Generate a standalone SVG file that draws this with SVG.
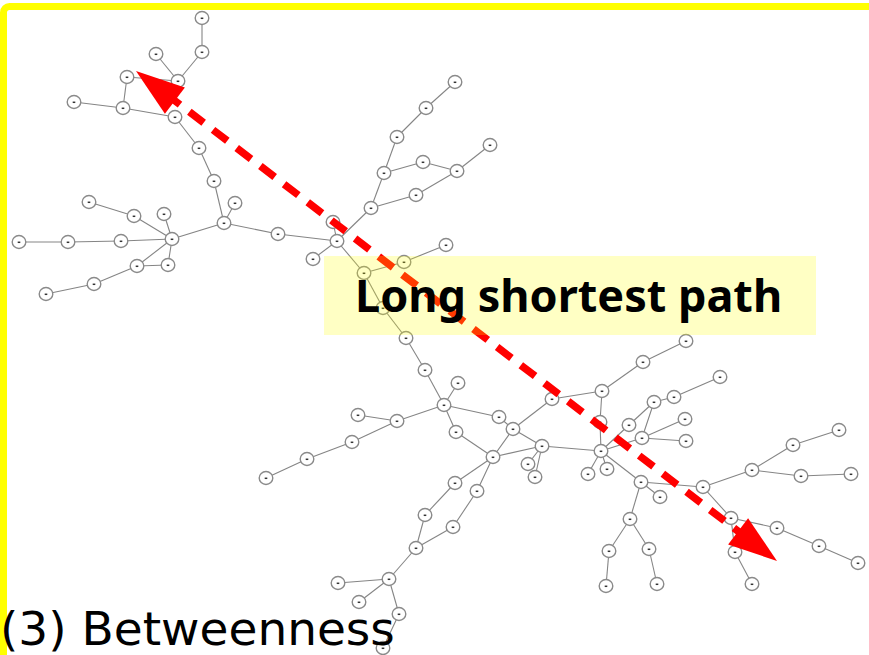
<svg xmlns="http://www.w3.org/2000/svg" xmlns:xlink="http://www.w3.org/1999/xlink" width="869" height="655" viewBox="0 0 869 655">
  <style>
    .edge { stroke: #858585; stroke-width: 1.1; fill: none; }
    .nd ellipse { fill: #ffffff; stroke: #8a8a8a; stroke-width: 1.4; }
    .nd path { stroke: #333; stroke-width: 1.5; }
    .path-line { stroke: #ff0000; stroke-width: 7.5; fill: none; stroke-dasharray: 18 11.8; }
    .head { fill: #ff0000; }
    .title { font-family: "Noto Sans", "Open Sans", sans-serif; font-weight: bold; font-size: 45px; fill: #000; }
    .caption { font-family: "DejaVu Sans", Verdana, sans-serif; font-size: 47px; fill: #000; }
  </style>
  <defs>
    <g id="node" class="nd">
      <ellipse cx="0" cy="0" rx="6.8" ry="6.5"/>
      <path d="M-1.3 0.3h2.6"/>
    </g>
  </defs>

  <rect width="869" height="655" fill="#ffffff"/>
  <!-- frame -->
  <rect x="3.5" y="6.5" width="920" height="720" rx="6" fill="none" stroke="#ffff00" stroke-width="7"/>

  <!-- connectors -->
  <g id="edges" class="edge">
    <line x1="202" y1="18" x2="202" y2="52"/>
    <line x1="202" y1="52" x2="178" y2="81"/>
    <line x1="156" y1="54" x2="178" y2="81"/>
    <line x1="178" y1="81" x2="127" y2="77"/>
    <line x1="127" y1="77" x2="123" y2="108"/>
    <line x1="123" y1="108" x2="74" y2="102"/>
    <line x1="123" y1="108" x2="175" y2="117"/>
    <line x1="175" y1="117" x2="199" y2="148"/>
    <line x1="199" y1="148" x2="214" y2="181"/>
    <line x1="214" y1="181" x2="224" y2="223"/>
    <line x1="235" y1="203" x2="224" y2="223"/>
    <line x1="89" y1="202" x2="134" y2="216"/>
    <line x1="134" y1="216" x2="172" y2="239"/>
    <line x1="164" y1="214" x2="172" y2="239"/>
    <line x1="19" y1="242" x2="68" y2="242"/>
    <line x1="68" y1="242" x2="121" y2="241"/>
    <line x1="121" y1="241" x2="172" y2="239"/>
    <line x1="172" y1="239" x2="137" y2="266"/>
    <line x1="172" y1="239" x2="168" y2="265"/>
    <line x1="137" y1="266" x2="168" y2="265"/>
    <line x1="137" y1="266" x2="94" y2="284"/>
    <line x1="94" y1="284" x2="46" y2="294"/>
    <line x1="172" y1="239" x2="224" y2="223"/>
    <line x1="224" y1="223" x2="278" y2="234"/>
    <line x1="278" y1="234" x2="337" y2="241"/>
    <line x1="337" y1="241" x2="313" y2="259"/>
    <line x1="337" y1="241" x2="333" y2="222"/>
    <line x1="455" y1="82" x2="426" y2="108"/>
    <line x1="426" y1="108" x2="397" y2="137"/>
    <line x1="397" y1="137" x2="384" y2="173"/>
    <line x1="384" y1="173" x2="371" y2="208"/>
    <line x1="384" y1="173" x2="423" y2="162"/>
    <line x1="423" y1="162" x2="457" y2="171"/>
    <line x1="457" y1="171" x2="490" y2="145"/>
    <line x1="457" y1="171" x2="416" y2="195"/>
    <line x1="416" y1="195" x2="371" y2="208"/>
    <line x1="371" y1="208" x2="337" y2="241"/>
    <line x1="337" y1="241" x2="364" y2="273"/>
    <line x1="364" y1="273" x2="404" y2="262"/>
    <line x1="404" y1="262" x2="446" y2="245"/>
    <line x1="364" y1="273" x2="383" y2="308"/>
    <line x1="383" y1="308" x2="406" y2="338"/>
    <line x1="406" y1="338" x2="425" y2="370"/>
    <line x1="425" y1="370" x2="444" y2="405"/>
    <line x1="444" y1="405" x2="458" y2="383"/>
    <line x1="444" y1="405" x2="397" y2="421"/>
    <line x1="397" y1="421" x2="358" y2="415"/>
    <line x1="397" y1="421" x2="352" y2="442"/>
    <line x1="352" y1="442" x2="307" y2="459"/>
    <line x1="307" y1="459" x2="266" y2="478"/>
    <line x1="444" y1="405" x2="499" y2="417"/>
    <line x1="499" y1="417" x2="513" y2="429"/>
    <line x1="513" y1="429" x2="542" y2="446"/>
    <line x1="513" y1="429" x2="552" y2="399"/>
    <line x1="513" y1="429" x2="493" y2="457"/>
    <line x1="444" y1="405" x2="456" y2="432"/>
    <line x1="456" y1="432" x2="493" y2="457"/>
    <line x1="493" y1="457" x2="542" y2="446"/>
    <line x1="542" y1="446" x2="528" y2="464"/>
    <line x1="542" y1="446" x2="535" y2="477"/>
    <line x1="493" y1="457" x2="455" y2="483"/>
    <line x1="455" y1="483" x2="425" y2="515"/>
    <line x1="425" y1="515" x2="416" y2="548"/>
    <line x1="493" y1="457" x2="477" y2="491"/>
    <line x1="477" y1="491" x2="453" y2="527"/>
    <line x1="453" y1="527" x2="416" y2="548"/>
    <line x1="416" y1="548" x2="389" y2="579"/>
    <line x1="389" y1="579" x2="338" y2="583"/>
    <line x1="389" y1="579" x2="359" y2="602"/>
    <line x1="389" y1="579" x2="399" y2="614"/>
    <line x1="399" y1="614" x2="383" y2="648"/>
    <line x1="552" y1="399" x2="602" y2="391"/>
    <line x1="602" y1="391" x2="643" y2="362"/>
    <line x1="643" y1="362" x2="686" y2="341"/>
    <line x1="602" y1="391" x2="600" y2="422"/>
    <line x1="600" y1="422" x2="601" y2="451"/>
    <line x1="542" y1="446" x2="601" y2="451"/>
    <line x1="601" y1="451" x2="629" y2="425"/>
    <line x1="629" y1="425" x2="654" y2="402"/>
    <line x1="654" y1="402" x2="674" y2="397"/>
    <line x1="674" y1="397" x2="720" y2="377"/>
    <line x1="654" y1="402" x2="642" y2="438"/>
    <line x1="601" y1="451" x2="642" y2="438"/>
    <line x1="642" y1="438" x2="685" y2="419"/>
    <line x1="642" y1="438" x2="686" y2="441"/>
    <line x1="601" y1="451" x2="588" y2="474"/>
    <line x1="601" y1="451" x2="607" y2="469"/>
    <line x1="601" y1="451" x2="641" y2="482"/>
    <line x1="641" y1="482" x2="660" y2="497"/>
    <line x1="641" y1="482" x2="703" y2="487"/>
    <line x1="703" y1="487" x2="752" y2="470"/>
    <line x1="752" y1="470" x2="793" y2="445"/>
    <line x1="793" y1="445" x2="839" y2="430"/>
    <line x1="752" y1="470" x2="801" y2="476"/>
    <line x1="801" y1="476" x2="851" y2="474"/>
    <line x1="703" y1="487" x2="731" y2="518"/>
    <line x1="731" y1="518" x2="777" y2="528"/>
    <line x1="777" y1="528" x2="819" y2="546"/>
    <line x1="819" y1="546" x2="858" y2="563"/>
    <line x1="731" y1="518" x2="735" y2="552"/>
    <line x1="735" y1="552" x2="752" y2="584"/>
    <line x1="641" y1="482" x2="630" y2="519"/>
    <line x1="630" y1="519" x2="609" y2="551"/>
    <line x1="609" y1="551" x2="606" y2="586"/>
    <line x1="630" y1="519" x2="649" y2="549"/>
    <line x1="649" y1="549" x2="657" y2="584"/>
  </g>

  <!-- nodes -->
  <g id="nodes">
    <g id="n1"><use xlink:href="#node" x="202" y="18"/></g>
    <g id="n2"><use xlink:href="#node" x="202" y="52"/></g>
    <g id="n3"><use xlink:href="#node" x="156" y="54"/></g>
    <g id="n4"><use xlink:href="#node" x="178" y="81"/></g>
    <g id="n5"><use xlink:href="#node" x="127" y="77"/></g>
    <g id="n6"><use xlink:href="#node" x="123" y="108"/></g>
    <g id="n7"><use xlink:href="#node" x="74" y="102"/></g>
    <g id="n8"><use xlink:href="#node" x="175" y="117"/></g>
    <g id="n9"><use xlink:href="#node" x="199" y="148"/></g>
    <g id="n10"><use xlink:href="#node" x="214" y="181"/></g>
    <g id="n11"><use xlink:href="#node" x="235" y="203"/></g>
    <g id="n12"><use xlink:href="#node" x="224" y="223"/></g>
    <g id="n13"><use xlink:href="#node" x="89" y="202"/></g>
    <g id="n14"><use xlink:href="#node" x="134" y="216"/></g>
    <g id="n15"><use xlink:href="#node" x="164" y="214"/></g>
    <g id="n16"><use xlink:href="#node" x="172" y="239"/></g>
    <g id="n17"><use xlink:href="#node" x="19" y="242"/></g>
    <g id="n18"><use xlink:href="#node" x="68" y="242"/></g>
    <g id="n19"><use xlink:href="#node" x="121" y="241"/></g>
    <g id="n20"><use xlink:href="#node" x="137" y="266"/></g>
    <g id="n21"><use xlink:href="#node" x="168" y="265"/></g>
    <g id="n22"><use xlink:href="#node" x="94" y="284"/></g>
    <g id="n23"><use xlink:href="#node" x="46" y="294"/></g>
    <g id="n24"><use xlink:href="#node" x="278" y="234"/></g>
    <g id="n25"><use xlink:href="#node" x="337" y="241"/></g>
    <g id="n26"><use xlink:href="#node" x="313" y="259"/></g>
    <g id="n27"><use xlink:href="#node" x="333" y="222"/></g>
    <g id="n28"><use xlink:href="#node" x="455" y="82"/></g>
    <g id="n29"><use xlink:href="#node" x="426" y="108"/></g>
    <g id="n30"><use xlink:href="#node" x="397" y="137"/></g>
    <g id="n31"><use xlink:href="#node" x="384" y="173"/></g>
    <g id="n32"><use xlink:href="#node" x="423" y="162"/></g>
    <g id="n33"><use xlink:href="#node" x="457" y="171"/></g>
    <g id="n34"><use xlink:href="#node" x="490" y="145"/></g>
    <g id="n35"><use xlink:href="#node" x="416" y="195"/></g>
    <g id="n36"><use xlink:href="#node" x="371" y="208"/></g>
    <g id="n37"><use xlink:href="#node" x="364" y="273"/></g>
    <g id="n38"><use xlink:href="#node" x="404" y="262"/></g>
    <g id="n39"><use xlink:href="#node" x="446" y="245"/></g>
    <g id="n40"><use xlink:href="#node" x="383" y="308"/></g>
    <g id="n41"><use xlink:href="#node" x="406" y="338"/></g>
    <g id="n42"><use xlink:href="#node" x="425" y="370"/></g>
    <g id="n43"><use xlink:href="#node" x="444" y="405"/></g>
    <g id="n44"><use xlink:href="#node" x="458" y="383"/></g>
    <g id="n45"><use xlink:href="#node" x="397" y="421"/></g>
    <g id="n46"><use xlink:href="#node" x="358" y="415"/></g>
    <g id="n47"><use xlink:href="#node" x="352" y="442"/></g>
    <g id="n48"><use xlink:href="#node" x="307" y="459"/></g>
    <g id="n49"><use xlink:href="#node" x="266" y="478"/></g>
    <g id="n50"><use xlink:href="#node" x="499" y="417"/></g>
    <g id="n51"><use xlink:href="#node" x="456" y="432"/></g>
    <g id="n52"><use xlink:href="#node" x="513" y="429"/></g>
    <g id="n53"><use xlink:href="#node" x="552" y="399"/></g>
    <g id="n54"><use xlink:href="#node" x="542" y="446"/></g>
    <g id="n55"><use xlink:href="#node" x="493" y="457"/></g>
    <g id="n56"><use xlink:href="#node" x="528" y="464"/></g>
    <g id="n57"><use xlink:href="#node" x="535" y="477"/></g>
    <g id="n58"><use xlink:href="#node" x="455" y="483"/></g>
    <g id="n59"><use xlink:href="#node" x="477" y="491"/></g>
    <g id="n60"><use xlink:href="#node" x="425" y="515"/></g>
    <g id="n61"><use xlink:href="#node" x="453" y="527"/></g>
    <g id="n62"><use xlink:href="#node" x="416" y="548"/></g>
    <g id="n63"><use xlink:href="#node" x="389" y="579"/></g>
    <g id="n64"><use xlink:href="#node" x="338" y="583"/></g>
    <g id="n65"><use xlink:href="#node" x="359" y="602"/></g>
    <g id="n66"><use xlink:href="#node" x="399" y="614"/></g>
    <g id="n67"><use xlink:href="#node" x="383" y="648"/></g>
    <g id="n68"><use xlink:href="#node" x="602" y="391"/></g>
    <g id="n69"><use xlink:href="#node" x="643" y="362"/></g>
    <g id="n70"><use xlink:href="#node" x="686" y="341"/></g>
    <g id="n71"><use xlink:href="#node" x="600" y="422"/></g>
    <g id="n72"><use xlink:href="#node" x="601" y="451"/></g>
    <g id="n73"><use xlink:href="#node" x="629" y="425"/></g>
    <g id="n74"><use xlink:href="#node" x="654" y="402"/></g>
    <g id="n75"><use xlink:href="#node" x="674" y="397"/></g>
    <g id="n76"><use xlink:href="#node" x="720" y="377"/></g>
    <g id="n77"><use xlink:href="#node" x="642" y="438"/></g>
    <g id="n78"><use xlink:href="#node" x="685" y="419"/></g>
    <g id="n79"><use xlink:href="#node" x="686" y="441"/></g>
    <g id="n80"><use xlink:href="#node" x="588" y="474"/></g>
    <g id="n81"><use xlink:href="#node" x="607" y="469"/></g>
    <g id="n82"><use xlink:href="#node" x="641" y="482"/></g>
    <g id="n83"><use xlink:href="#node" x="660" y="497"/></g>
    <g id="n84"><use xlink:href="#node" x="703" y="487"/></g>
    <g id="n85"><use xlink:href="#node" x="752" y="470"/></g>
    <g id="n86"><use xlink:href="#node" x="793" y="445"/></g>
    <g id="n87"><use xlink:href="#node" x="839" y="430"/></g>
    <g id="n88"><use xlink:href="#node" x="801" y="476"/></g>
    <g id="n89"><use xlink:href="#node" x="851" y="474"/></g>
    <g id="n90"><use xlink:href="#node" x="731" y="518"/></g>
    <g id="n91"><use xlink:href="#node" x="777" y="528"/></g>
    <g id="n92"><use xlink:href="#node" x="819" y="546"/></g>
    <g id="n93"><use xlink:href="#node" x="858" y="563"/></g>
    <g id="n94"><use xlink:href="#node" x="735" y="552"/></g>
    <g id="n95"><use xlink:href="#node" x="752" y="584"/></g>
    <g id="n96"><use xlink:href="#node" x="630" y="519"/></g>
    <g id="n97"><use xlink:href="#node" x="609" y="551"/></g>
    <g id="n98"><use xlink:href="#node" x="606" y="586"/></g>
    <g id="n99"><use xlink:href="#node" x="649" y="549"/></g>
    <g id="n100"><use xlink:href="#node" x="657" y="584"/></g>
  </g>

  <!-- highlighted long shortest path: dashed line with heads at both ends -->
  <g id="long-path">
    <line class="path-line" x1="159.8" y1="89.2" x2="753.2" y2="542.8" stroke-dashoffset="22.4"/>
    <polygon class="head" points="136,71 184.9,87.6 164.9,113.8"/>
    <polygon class="head" points="777,561 748.1,518.2 728.1,544.4"/>
  </g>

  <!-- callout -->
  <g id="callout">
    <rect x="324" y="256" width="492" height="79" fill="#ffff00" fill-opacity="0.23"/>
    <text class="title" x="355" y="312">Long shortest path</text>
  </g>

  <text class="caption" x="0" y="645">(3) Betweenness</text>
</svg>
